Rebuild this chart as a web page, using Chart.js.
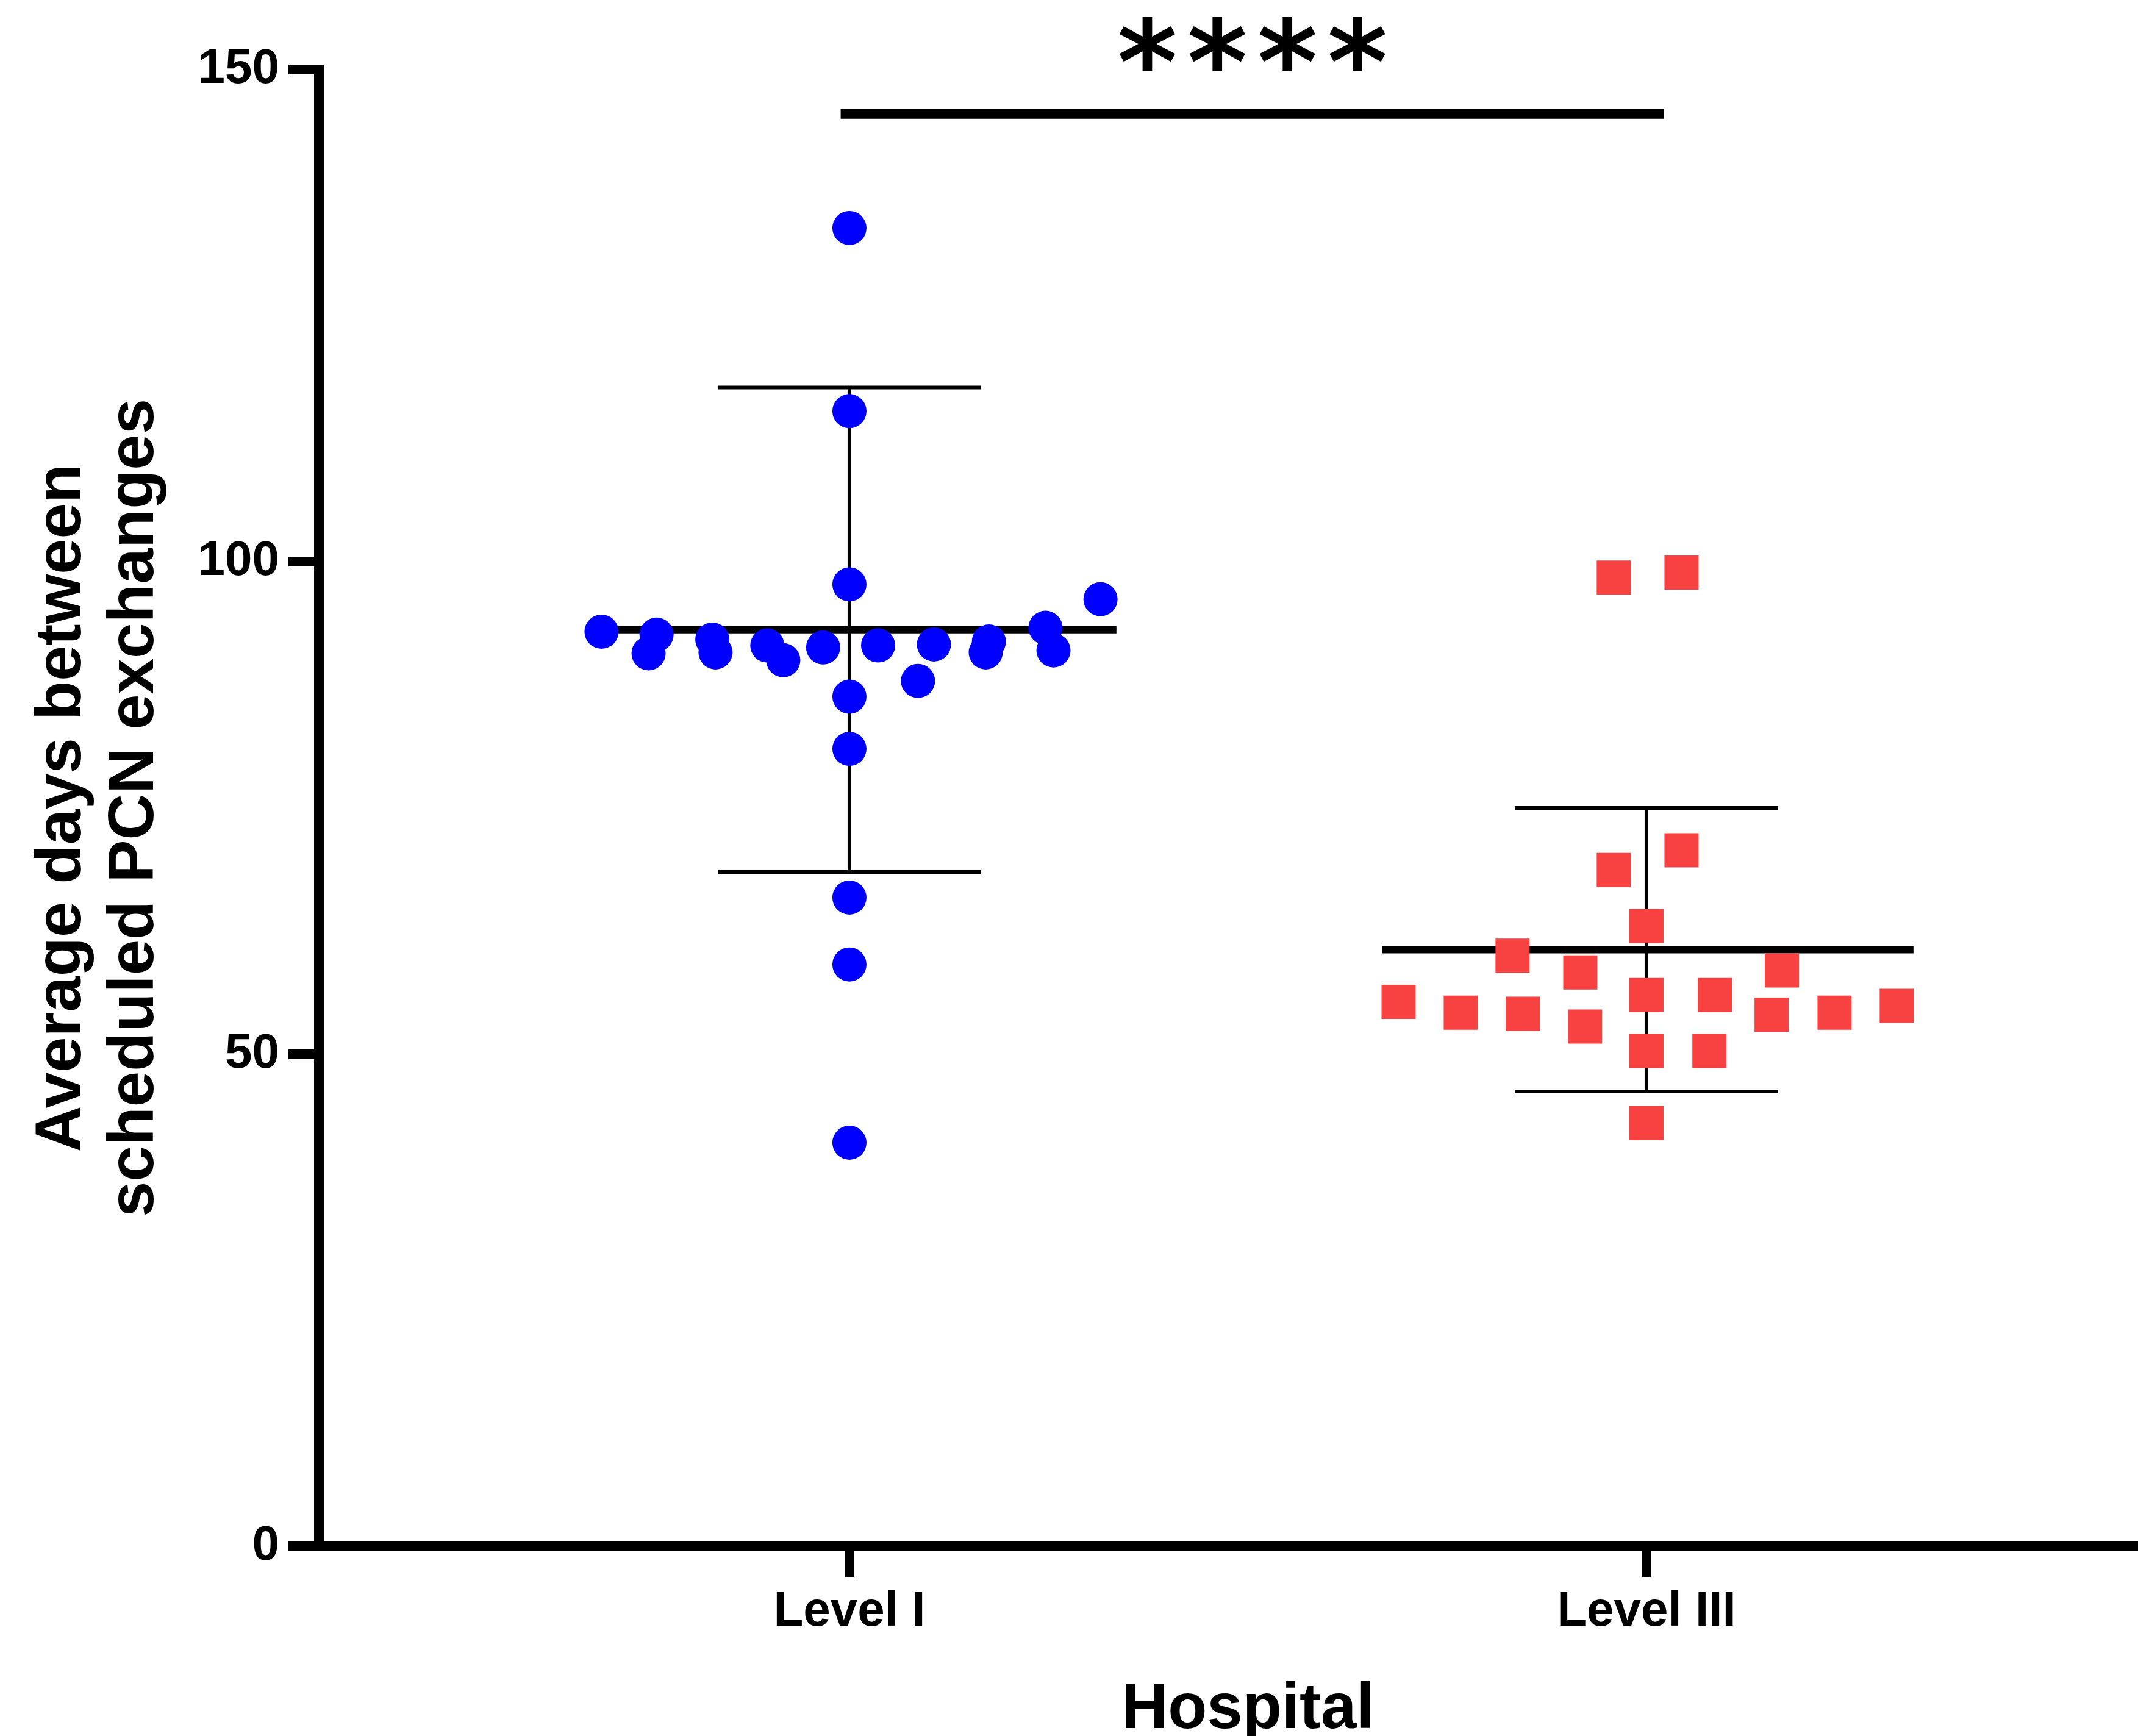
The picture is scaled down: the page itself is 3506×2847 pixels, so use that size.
<!DOCTYPE html>
<html>
<head>
<meta charset="utf-8">
<script src="https://cdn.jsdelivr.net/npm/chart.js@4.4.1/dist/chart.umd.min.js"></script>
<style>
  html, body { margin: 0; padding: 0; background: #fff; }
  canvas { display: block; }
</style>
</head>
<body>
<canvas id="chart" width="3506" height="2847"></canvas>
<script>
// values
const categories = ['Level I', 'Level III']
const yTicks = [0, 50, 100, 150]

const levelIDays = [133.9, 115.3, 97.7, 86.3, 81.0, 65.9, 59.1, 41.0,
	92.9, 92.6, 90.7, 92.1, 90.8, 91.5, 90.0, 91.3,
	91.5, 91.6, 87.9, 91.9, 90.8, 93.3, 91.0, 96.2]
// horizontal scatter of each point around its category (category units)
const levelIJitter = [0, 0, 0, 0, 0, 0, 0, 0,
	-0.311, -0.242, -0.252, -0.172, -0.168, -0.103, -0.083, -0.033,
	0.036, 0.106, 0.086, 0.175, 0.171, 0.246, 0.256, 0.315]

const levelIIIDays = [98.4, 98.9, 70.7, 68.7, 63.0, 60.0, 58.3, 58.5,
	55.3, 54.2, 54.1, 52.8, 56.0, 56.0, 54.0, 54.2,
	54.9, 50.3, 50.3, 43.0]
const levelIIIJitter = [-0.041, 0.044, 0.044, -0.041, 0, -0.168, -0.083, 0.170,
	-0.311, -0.233, -0.155, -0.077, 0, 0.086, 0.157, 0.236,
	0.314, 0, 0.079, 0]

const groupMeans = [93.1, 60.6]
const groupSD = [24.6, 14.4]

const significance = '****'
const sigLevel = 145.5
const sigFrom = 0.989
const sigTo = 2.022

const yTitle = ['Average days between', 'scheduled PCN exchanges']
const xTitle = 'Hospital'

const FONT = '"Liberation Sans", Arial, Helvetica, sans-serif'
const BLUE = '#0000ff'
const RED = '#f84141'
// extent of the mean bar either side of the category
const meanSpan = [[-0.29, 0.335], [-0.332, 0.335]]
const capHalf = 0.165

function points(days, jitter, pos) {
	return days.map((d, i) => ({x: pos + jitter[i], y: d}))
}

function segment(x1, y1, x2, y2, width) {
	return {
		type: 'line',
		data: [{x: x1, y: y1}, {x: x2, y: y2}],
		borderColor: '#000',
		borderWidth: width,
		pointRadius: 0,
		pointHoverRadius: 0,
		order: 2,
	}
}

var datasets = [
	{
		label: categories[0],
		data: points(levelIDays, levelIJitter, 1),
		backgroundColor: BLUE,
		borderWidth: 0,
		pointStyle: 'circle',
		pointRadius: 28,
		pointHoverRadius: 28,
		order: 0,
	},
	{
		label: categories[1],
		data: points(levelIIIDays, levelIIIJitter, 2),
		backgroundColor: RED,
		borderWidth: 0,
		pointStyle: 'rect',
		pointRadius: 39.6,
		pointHoverRadius: 39.6,
		order: 0,
	},
]

// mean line with SD whiskers for each group
categories.forEach((c, i) => {
	const pos = i + 1
	const m = groupMeans[i], sd = groupSD[i]
	datasets.push(segment(pos + meanSpan[i][0], m, pos + meanSpan[i][1], m, 12))
	datasets.push(segment(pos, m - sd, pos, m + sd, 6))
	datasets.push(segment(pos - capHalf, m + sd, pos + capHalf, m + sd, 6))
	datasets.push(segment(pos - capHalf, m - sd, pos + capHalf, m - sd, 6))
})

// significance bracket
datasets.push(segment(sigFrom, sigLevel, sigTo, sigLevel, 16))

const annotate = {
	id: 'annotate',
	afterDraw(chart) {
		const {ctx, scales: {x, y}} = chart
		ctx.save()
		ctx.fillStyle = '#000'
		ctx.textAlign = 'center'
		ctx.textBaseline = 'alphabetic'
		ctx.font = `bold 189px "DejaVu Sans", sans-serif`
		ctx.letterSpacing = '16px'
		ctx.fillText(significance, x.getPixelForValue((sigFrom + sigTo) / 2) + 8, y.getPixelForValue(sigLevel) - 18)
		ctx.letterSpacing = '0px'
		ctx.font = `bold 105px ${FONT}`
		ctx.fillText(xTitle, x.getPixelForValue(1.5), 2834)
		ctx.restore()
	}
}

new Chart(document.getElementById('chart'), {
	type: 'scatter',
	data: {datasets: datasets},
	options: {
		responsive: false,
		devicePixelRatio: 1,
		animation: false,
		layout: {autoPadding: false, padding: {top: 114, left: 0, right: 0, bottom: 0}},
		plugins: {
			legend: {display: false},
			tooltip: {enabled: false},
		},
		scales: {
			x: {
				type: 'linear',
				min: 0.3344,
				max: 2.6167,
				afterFit: (s) => { s.height = 311 },
				afterBuildTicks: (s) => { s.ticks = categories.map((c, i) => ({value: i + 1})) },
				border: {display: true, color: '#000', width: 16},
				grid: {drawOnChartArea: false, drawTicks: true, tickLength: 50, lineWidth: 16, color: '#000'},
				ticks: {
					padding: 10,
					color: '#000',
					font: {family: FONT, size: 80, weight: 'bold'},
					callback: (v) => categories[v - 1],
				},
			},
			y: {
				min: 0,
				max: 150,
				afterFit: (s) => { s.width = 523 },
				afterBuildTicks: (s) => { s.ticks = yTicks.map((v) => ({value: v})) },
				border: {display: true, color: '#000', width: 16},
				grid: {drawOnChartArea: false, drawTicks: true, tickLength: 50, lineWidth: 16, color: '#000'},
				ticks: {
					padding: 15,
					color: '#000',
					font: {family: FONT, size: 80, weight: 'bold'},
				},
				title: {
					display: true,
					text: yTitle,
					color: '#000',
					font: {family: FONT, size: 105, weight: 'bold', lineHeight: 1.133},
					padding: {top: 44, bottom: 0},
				},
			},
		},
	},
	plugins: [annotate],
})
</script>
</body>
</html>
